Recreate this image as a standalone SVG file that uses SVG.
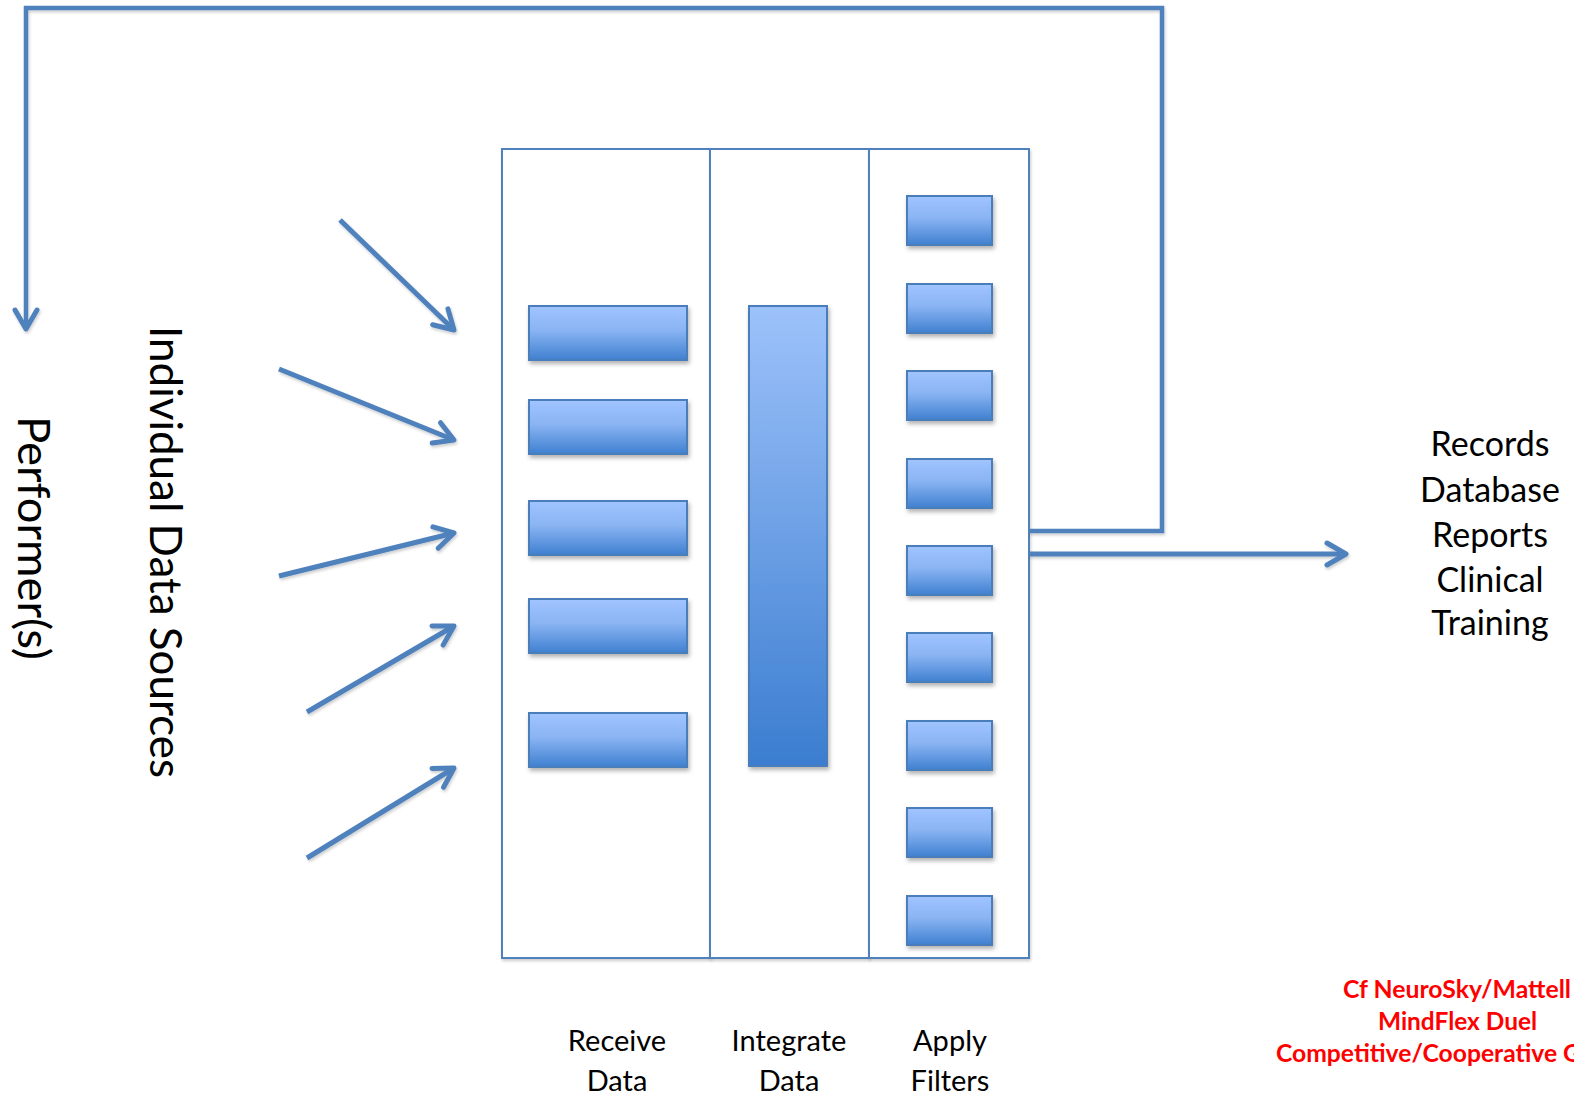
<svg xmlns="http://www.w3.org/2000/svg" width="1574" height="1098" viewBox="0 0 1574 1098">
  <defs>
    <style>
      .col { fill: #ffffff; stroke: #4F81BD; stroke-width: 2; }
      .bar { stroke: #4A7EBB; stroke-width: 2; }
      .rx { fill: url(#barGrad); }
      .fx { fill: url(#barGrad); }
      .ix { fill: url(#tallGrad); }
      .wire { fill: none; stroke: #4F81BD; stroke-width: 4.5; stroke-linejoin: miter; }
      .arr { fill: none; stroke: #4F81BD; stroke-width: 5; marker-end: url(#chev); }
      .lbl { font-family: Lato, "Liberation Sans", sans-serif; fill: #000000; text-anchor: middle; }
      .note { font-family: Lato, "Liberation Sans", sans-serif; font-weight: bold; fill: #FF0000; font-size: 25px; }
    </style>
    <linearGradient id="barGrad" x1="0" y1="0" x2="0" y2="1">
      <stop offset="0" stop-color="#A0C4FF"/>
      <stop offset="0.45" stop-color="#8AB4F3"/>
      <stop offset="1" stop-color="#3F80D0"/>
    </linearGradient>
    <linearGradient id="tallGrad" x1="0" y1="0" x2="0" y2="1">
      <stop offset="0" stop-color="#9DC2FA"/>
      <stop offset="1" stop-color="#3B7DD0"/>
    </linearGradient>
    <filter id="shadow" x="-20%" y="-20%" width="140%" height="140%">
      <feDropShadow dx="1.5" dy="3" stdDeviation="2" flood-color="#000000" flood-opacity="0.3"/>
    </filter>
    <filter id="softShadow" x="-5%" y="-5%" width="110%" height="110%">
      <feDropShadow dx="1" dy="2" stdDeviation="1.5" flood-color="#000000" flood-opacity="0.2"/>
    </filter>
    <marker id="chev" markerUnits="userSpaceOnUse" markerWidth="40" markerHeight="40" orient="auto" overflow="visible" refX="0" refY="0">
      <path d="M-19,-11 L0,0 L-19,11" fill="none" stroke="#4F81BD" stroke-width="5" stroke-linecap="round" stroke-linejoin="round"/>
    </marker>
  </defs>

  <rect width="1574" height="1098" fill="#ffffff"/>

  <!-- three process columns -->
  <g id="col-receive" filter="url(#softShadow)">
    <rect class="col" x="502" y="149" width="208" height="809"/>
  </g>
  <g id="col-integrate" filter="url(#softShadow)">
    <rect class="col" x="710" y="149" width="159" height="809"/>
  </g>
  <g id="col-filters" filter="url(#softShadow)">
    <rect class="col" x="869" y="149" width="160" height="809"/>
  </g>

  <!-- receive data slots -->
  <g id="receive-slots" filter="url(#shadow)">
    <rect class="bar rx" x="529" y="306" width="158" height="54"/>
    <rect class="bar rx" x="529" y="400" width="158" height="54"/>
    <rect class="bar rx" x="529" y="501" width="158" height="54"/>
    <rect class="bar rx" x="529" y="599" width="158" height="54"/>
    <rect class="bar rx" x="529" y="713" width="158" height="54"/>
  </g>

  <!-- integration block -->
  <g id="integrate-block" filter="url(#shadow)">
    <rect class="bar ix" x="749" y="306" width="78" height="460"/>
  </g>

  <!-- filter slots -->
  <g id="filter-slots" filter="url(#shadow)">
    <rect class="bar fx" x="907" y="196" width="85" height="49"/>
    <rect class="bar fx" x="907" y="284" width="85" height="49"/>
    <rect class="bar fx" x="907" y="371" width="85" height="49"/>
    <rect class="bar fx" x="907" y="459" width="85" height="49"/>
    <rect class="bar fx" x="907" y="546" width="85" height="49"/>
    <rect class="bar fx" x="907" y="633" width="85" height="49"/>
    <rect class="bar fx" x="907" y="721" width="85" height="49"/>
    <rect class="bar fx" x="907" y="808" width="85" height="49"/>
    <rect class="bar fx" x="907" y="896" width="85" height="49"/>
  </g>

  <!-- connectors -->
  <g id="connectors" filter="url(#softShadow)">
    <path class="wire" d="M1029,531 L1162,531 L1162,8 L26,8 L26,329" marker-end="url(#chev)"/>
    <path class="arr" d="M1029,554 L1346,554"/>
    <path class="arr" d="M340,220 L454,330"/>
    <path class="arr" d="M279,369 L454,440"/>
    <path class="arr" d="M279,576 L454,533"/>
    <path class="arr" d="M307,712 L454,626"/>
    <path class="arr" d="M307,858 L454,768"/>
  </g>

  <!-- side labels -->
  <g id="label-sources">
    <text class="lbl" font-size="44" transform="translate(150,552) rotate(90)" textLength="452" lengthAdjust="spacingAndGlyphs">Individual Data Sources</text>
  </g>
  <g id="label-performer">
    <text class="lbl" font-size="44" transform="translate(18,538) rotate(90)" textLength="244" lengthAdjust="spacingAndGlyphs">Performer(s)</text>
  </g>

  <!-- outputs -->
  <g id="label-outputs" font-size="34">
    <text class="lbl" x="1490" y="456">Records</text>
    <text class="lbl" x="1490" y="502">Database</text>
    <text class="lbl" x="1490" y="547">Reports</text>
    <text class="lbl" x="1490" y="592">Clinical</text>
    <text class="lbl" x="1490" y="635">Training</text>
  </g>

  <!-- column captions -->
  <g id="caption-receive" font-size="29">
    <text class="lbl" x="617" y="1051">Receive</text>
    <text class="lbl" x="617" y="1091">Data</text>
  </g>
  <g id="caption-integrate" font-size="29">
    <text class="lbl" x="789" y="1051">Integrate</text>
    <text class="lbl" x="789" y="1091">Data</text>
  </g>
  <g id="caption-filters" font-size="29">
    <text class="lbl" x="950" y="1051">Apply</text>
    <text class="lbl" x="950" y="1091">Filters</text>
  </g>

  <!-- reference note -->
  <g id="note">
    <text class="note" x="1343" y="998" textLength="228" lengthAdjust="spacingAndGlyphs">Cf NeuroSky/Mattell</text>
    <text class="note" x="1378" y="1030" textLength="159" lengthAdjust="spacingAndGlyphs">MindFlex Duel</text>
    <text class="note" x="1276" y="1062" textLength="305" lengthAdjust="spacingAndGlyphs">Competitive/Cooperative G</text>
  </g>
</svg>
